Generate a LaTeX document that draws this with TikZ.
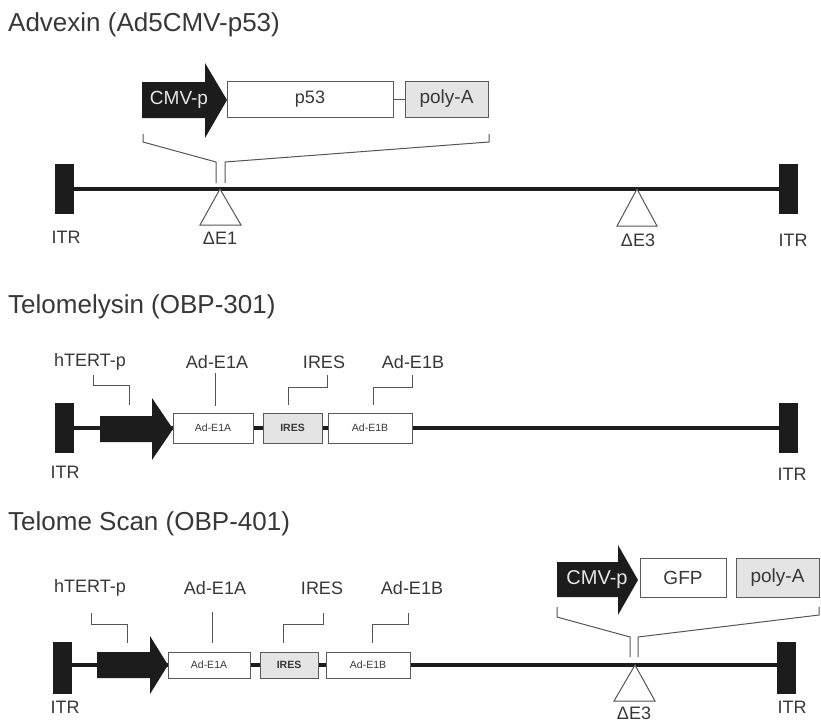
\documentclass[tikz,border=0pt]{standalone}
\usepackage{fontspec}
\setmainfont{Liberation Sans}
\definecolor{dark}{HTML}{1C1C1C}
\definecolor{textc}{HTML}{383838}
\definecolor{boxc}{HTML}{5A5A5A}
\definecolor{leadc}{HTML}{555555}
\definecolor{grayfill}{HTML}{E4E4E4}
\definecolor{revtext}{HTML}{E6E6E6}
\newcommand\ftitle{\fontsize{26}{30}\selectfont}
\newcommand\flab{\fontsize{18}{21}\selectfont}
\newcommand\fmid{\fontsize{19}{22}\selectfont}
\newcommand\fsmall{\fontsize{10.5}{12}\selectfont}
\begin{document}
\begin{tikzpicture}[x=1pt,y=-1pt,
  txt/.style={text=textc, inner sep=0pt},
  title/.style={txt, anchor=west, font=\ftitle},
  lab/.style={txt, font=\flab},
  itr/.style={fill=dark, draw=none, minimum width=19pt, minimum height=50pt, inner sep=0pt},
  backbone/.style={line width=4pt, draw=dark},
  box/.style={draw=boxc, line width=1pt, fill=white, inner sep=0pt, text=textc},
  gbox/.style={box, fill=grayfill},
  lead/.style={draw=leadc, line width=1pt},
  tri/.style={draw=leadc, line width=1pt, fill=white},
  promo/.style={fill=dark, draw=none},
  promotxt/.style={text=revtext, inner sep=0pt, font=\fmid},
]
\useasboundingbox[fill=white] (0,0) rectangle (821,723);

% ---------------- Section 1: Advexin ----------------
\node[title] (t1) at (8,25) {Advexin (Ad5CMV-p53)};
\node[itr] (itr1l) at (64,189) {};
\node[itr] (itr1r) at (788,189) {};
\draw[backbone] (itr1l.center) -- (itr1r.center);
\node[itr] at (64,189) {};
\node[itr] at (788,189) {};
\coordinate (e1) at (220,189);
\coordinate (e3a) at (637,189);
\draw[tri] (e1) -- (200,225) -- (241,225) -- cycle;
\draw[tri] (e3a) -- (617,226) -- (657,226) -- cycle;
\node[lab] (litr1l) at (66,237) {ITR};
\node[lab] (litr1r) at (793,240) {ITR};
\node[lab] (le1) at (220,238) {ΔE1};
\node[lab] (le3a) at (638,240) {ΔE3};

\fill[promo] (142,82) -- (205,82) -- (205,63) -- (227,100) -- (205,138) -- (205,118) -- (142,118) -- cycle;
\node[promotxt] (cmv1) at (179,100) {CMV-p};
\node[box, minimum width=166pt, minimum height=36pt, font=\flab] (p53) at (310,99) {p53};
\node[gbox, minimum width=83pt, minimum height=36pt, font=\fmid] (pa1) at (446.5,99) {poly-A};
\draw[lead] (p53.east) -- (pa1.west);
\draw[lead] (143,134) -- (143,142) -- (216,162) -- (216,183);
\draw[lead] (489,134) -- (489,142) -- (225,162) -- (225,183);

% ---------------- Section 2: Telomelysin ----------------
\node[title] (t2) at (8,307) {Telomelysin (OBP-301)};
\node[itr] (itr2l) at (64,428) {};
\node[itr] (itr2r) at (788,428) {};
\draw[backbone] (itr2l.center) -- (itr2r.center);
\node[itr] at (64,428) {};
\node[itr] at (788,428) {};
\fill[promo] (100,416) -- (152,416) -- (152,398) -- (173,429) -- (152,460) -- (152,442) -- (100,442) -- cycle;
\node[box, minimum width=80pt, minimum height=30pt, font=\fsmall] (e1a2) at (213,428) {Ad-E1A};
\node[gbox, minimum width=59pt, minimum height=30pt, font=\fsmall\bfseries] (ires2) at (292.5,428) {IRES};
\node[box, minimum width=84pt, minimum height=30pt, font=\fsmall] (e1b2) at (370,428) {Ad-E1B};
\node[lab] (litr2l) at (65,472) {ITR};
\node[lab] (litr2r) at (792,474) {ITR};
\node[lab] (lh2) at (90,362) {hTERT-p};
\node[lab] (la2) at (217,362) {Ad-E1A};
\node[lab] (li2) at (324,362) {IRES};
\node[lab] (lb2) at (413,362) {Ad-E1B};
\draw[lead] (93,375) -- (93,385) -- (129,385) -- (129,405);
\draw[lead] (215,373) -- (215,406);
\draw[lead] (327,375) -- (327,387) -- (288,387) -- (288,405);
\draw[lead] (412,375) -- (412,387) -- (373,387) -- (373,405);

% ---------------- Section 3: Telome Scan ----------------
\node[title] (t3) at (8,524) {Telome Scan (OBP-401)};
\node[itr, minimum height=52pt] (itr3l) at (62,668) {};
\node[itr, minimum height=52pt] (itr3r) at (786,668) {};
\draw[backbone] (itr3l.center |- 0,665) -- (itr3r.center |- 0,665);
\node[itr, minimum height=52pt] at (62,668) {};
\node[itr, minimum height=52pt] at (786,668) {};
\fill[promo] (97,652) -- (150,652) -- (150,636) -- (168,665) -- (150,694) -- (150,678) -- (97,678) -- cycle;
\node[box, minimum width=82pt, minimum height=26pt, font=\fsmall] (e1a3) at (209,665) {Ad-E1A};
\node[gbox, minimum width=58pt, minimum height=26pt, font=\fsmall\bfseries] (ires3) at (289,665) {IRES};
\node[box, minimum width=84pt, minimum height=26pt, font=\fsmall] (e1b3) at (368,665) {Ad-E1B};
\node[lab] (litr3l) at (65,707) {ITR};
\node[lab] (litr3r) at (792,707) {ITR};
\node[lab] (lh3) at (90,588) {hTERT-p};
\node[lab] (la3) at (215,588) {Ad-E1A};
\node[lab] (li3) at (322,588) {IRES};
\node[lab] (lb3) at (412,588) {Ad-E1B};
\draw[lead] (91,613) -- (91,624) -- (127,624) -- (127,643);
\draw[lead] (212,612) -- (212,643);
\draw[lead] (323,613) -- (323,624) -- (283,624) -- (283,643);
\draw[lead] (408,613) -- (408,624) -- (372,624) -- (372,643);

\coordinate (e3b) at (635,665);
\draw[tri] (e3b) -- (614,701) -- (655,701) -- cycle;
\node[lab] (le3b) at (634,713) {ΔE3};
\fill[promo] (557,562) -- (618,562) -- (618,545) -- (638,580) -- (618,615) -- (618,597) -- (557,597) -- cycle;
\node[promotxt, font=\fontsize{20}{24}\selectfont] (cmv3) at (597,580) {CMV-p};
\node[box, minimum width=86pt, minimum height=39pt, font=\fmid] (gfp) at (683,577.5) {GFP};
\node[gbox, minimum width=83pt, minimum height=39pt, font=\fmid] (pa3) at (777.5,577.5) {poly-A};
\draw[lead] (557,607) -- (557,617) -- (630,637) -- (630,657);
\draw[lead] (819,607) -- (819,615) -- (638,637) -- (638,657);
\end{tikzpicture}
\end{document}
